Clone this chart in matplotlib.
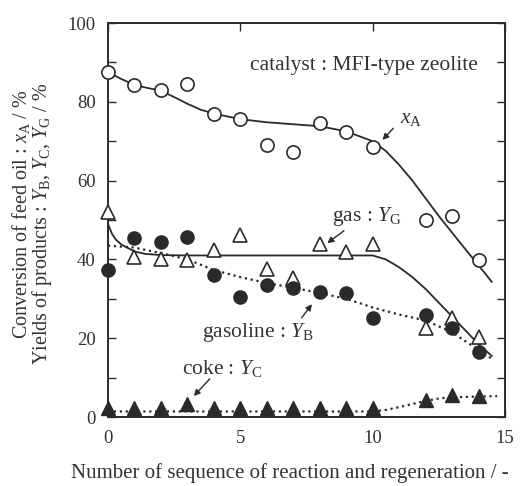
import matplotlib
matplotlib.use("Agg")
import matplotlib.pyplot as plt

plt.rcParams['font.family'] = ['Liberation Serif', 'DejaVu Serif']
plt.rcParams['mathtext.fontset'] = 'custom'
plt.rcParams['mathtext.rm'] = 'Liberation Serif'
plt.rcParams['mathtext.it'] = 'Liberation Serif:italic'

# measured points
seq = [0, 1, 2, 3, 4, 5, 6, 7, 8, 9, 10, 12, 13, 14]
conv_xA = [87.5, 84.3, 83.0, 84.5, 76.9, 75.6, 69.0, 67.3, 74.7, 72.3, 68.6, 50.0, 51.0, 39.8]
gas_YG = [52.0, 40.6, 40.0, 39.8, 42.4, 46.2, 37.6, 35.4, 44.0, 42.0, 44.0, 22.6, 25.1, 20.3]
gasoline_YB = [37.3, 45.4, 44.5, 45.7, 36.0, 30.5, 33.5, 32.7, 31.6, 31.4, 25.1, 25.9, 22.7, 16.6]
coke_YC = [2.3, 2.3, 2.3, 3.4, 2.3, 2.3, 2.3, 2.3, 2.3, 2.3, 2.3, 4.2, 5.7, 5.3]

# fitted curves
fit_xA_x = [0, 0.5, 1, 1.5, 2, 2.5, 3, 3.5, 4, 5, 6, 7, 8, 9, 10, 10.5, 11, 11.5, 12, 12.5, 13, 13.5, 14, 14.5]
fit_xA_y = [87.5, 85.8, 84.3, 83.5, 82.8, 81.2, 79.5, 78.0, 77.0, 75.6, 74.8, 74.3, 73.8, 72.5, 70.0, 67.5, 64.0, 60.0, 55.5, 51.0, 46.8, 42.6, 38.5, 34.3]
fit_YG_x = [0, 0.15, 0.3, 0.5, 0.75, 1, 1.4, 2, 3, 4, 5, 6, 7, 8, 9, 10, 10.5, 11, 11.5, 12, 12.5, 13, 13.5, 14, 14.5]
fit_YG_y = [49.0, 46.5, 45.0, 43.8, 42.9, 42.0, 41.4, 41.1, 41.0, 41.0, 41.0, 41.0, 41.0, 41.0, 41.0, 41.0, 40.0, 38.0, 35.5, 32.5, 29.0, 25.5, 22.0, 18.5, 15.5]
fit_YB_x = [0, 1, 2, 3, 4, 5, 6, 7, 8, 9, 10, 11, 12, 13, 14, 14.5]
fit_YB_y = [43.5, 43.0, 41.6, 40.0, 37.3, 35.5, 34.0, 32.8, 31.5, 30.0, 27.8, 26.0, 24.5, 21.5, 17.0, 14.8]
fit_YC_x = [0, 10, 10.5, 11, 11.5, 12, 12.5, 13, 14, 14.7]
fit_YC_y = [1.4, 1.4, 1.8, 2.5, 3.3, 4.1, 4.7, 5.0, 5.2, 5.3]

x_ticks = [0, 5, 10, 15]
y_ticks = [0, 20, 40, 60, 80, 100]

W, H = 522, 486
fig = plt.figure(figsize=(W/100, H/100), dpi=100)
ax = fig.add_axes([108/W, 1 - 417/H, (505-108)/W, (417-23)/H])

lc = '#2a2a2a'
tc = '#333333'
ms = 9.5
ax.plot(fit_xA_x, fit_xA_y, '-', color=lc, lw=1.3, zorder=2)
ax.plot(fit_YG_x, fit_YG_y, '-', color=lc, lw=1.3, zorder=2)
ax.plot(fit_YB_x, fit_YB_y, ':', color=lc, lw=1.6, zorder=2)
ax.plot(fit_YC_x, fit_YC_y, ':', color=lc, lw=1.6, zorder=2)

ax.plot(seq, conv_xA, 'o', ms=ms, mfc='white', mec=lc, mew=1.2, ls='none', zorder=3, clip_on=False)
ax.plot(seq, gas_YG, '^', ms=ms+1, mfc='white', mec=lc, mew=1.2, ls='none', zorder=3, clip_on=False)
ax.plot(seq, gasoline_YB, 'o', ms=ms, mfc=lc, mec=lc, ls='none', zorder=4, clip_on=False)
ax.plot(seq, coke_YC, '^', ms=ms+1, mfc=lc, mec=lc, ls='none', zorder=4, clip_on=False)

ax.set_xlim(0, 15)
ax.set_ylim(0, 100)
ax.set_xticks(x_ticks)
ax.set_yticks(y_ticks)
ax.set_yticks([10, 30, 50, 70, 90], minor=True)
ax.tick_params(which='both', direction='in', top=True, right=True, length=6, width=1.0,
               labelsize=13.5, colors=lc, labelcolor=tc, pad=9)
ax.tick_params(axis='y', labelright=False)
for s in ax.spines.values():
    s.set_linewidth(1.4)
    s.set_color(lc)

fig.text(290/W, 1 - 473/H, 'Number of sequence of reaction and regeneration / -',
         ha='center', va='center', fontsize=15, color=tc)
fig.text(21/W, 1 - 214/H, 'Conversion of feed oil : $x_\\mathrm{A}$ / %',
         ha='center', va='center', rotation=90, fontsize=14.5, color=tc)
fig.text(42/W, 1 - 224/H, 'Yields of products : $Y_\\mathrm{B}$, $Y_\\mathrm{C}$, $Y_\\mathrm{G}$ / %',
         ha='center', va='center', rotation=90, fontsize=14.5, color=tc)

ax.text(13.96, 89.3, 'catalyst : MFI-type zeolite', ha='right', va='center', fontsize=15.5, color=tc)
ap = dict(arrowstyle='-|>', color=lc, lw=1.0, mutation_scale=9)
ax.annotate('', xy=(10.3, 69.8), xytext=(10.85, 73.8), arrowprops=ap)
ax.text(11.05, 75.8, '$x_\\mathrm{A}$', ha='left', va='center', fontsize=15.5, color=tc)
ax.annotate('', xy=(8.2, 43.7), xytext=(9.0, 47.7), arrowprops=ap)
ax.text(9.77, 50.8, 'gas : $Y_\\mathrm{G}$', ha='center', va='center', fontsize=15.5, color=tc)
ax.annotate('', xy=(7.77, 29.2), xytext=(7.25, 24.6), arrowprops=ap)
ax.text(5.66, 21.4, 'gasoline : $Y_\\mathrm{B}$', ha='center', va='center', fontsize=15.5, color=tc)
ax.annotate('', xy=(3.17, 4.8), xytext=(3.92, 10.2), arrowprops=ap)
ax.text(4.3, 12.4, 'coke : $Y_\\mathrm{C}$', ha='center', va='center', fontsize=15.5, color=tc)

fig.savefig('out.png', dpi=100)
